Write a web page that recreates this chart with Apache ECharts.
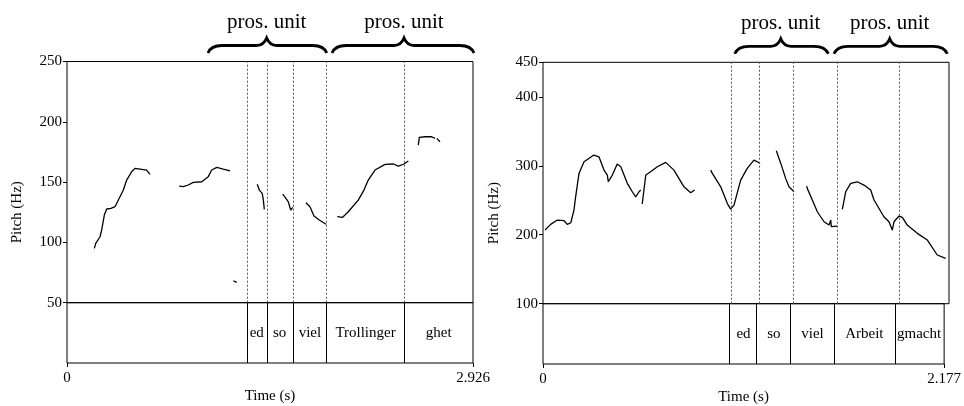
<!DOCTYPE html>
<html>
<head>
<meta charset="utf-8">
<script src="https://cdn.jsdelivr.net/npm/echarts@6/dist/echarts.min.js"></script>
<style>
  html, body { margin: 0; padding: 0; background: #fff; }
  #J_chart { width: 964px; height: 406px; }
</style>
</head>
<body>
<div id="J_chart"></div>
<script>
const FONT = '"Liberation Serif", "DejaVu Serif", serif';

// left panel: "ed so viel Trollinger ghet"
const leftDur = 2.926;
const leftPitchTicks = [50, 100, 150, 200, 250];
const leftContours = [
    [[0.197, 95.1], [0.207, 99.2], [0.221, 100.1], [0.238, 104.7], [0.250, 110.3], [0.269, 122.7],
     [0.286, 127.7], [0.317, 128.3], [0.346, 129.6], [0.370, 135.1], [0.406, 143.4], [0.430, 151.7],
     [0.466, 158.6], [0.490, 161.4], [0.526, 160.8], [0.574, 160.0], [0.598, 156.4]],
    [[0.809, 146.7], [0.838, 146.2], [0.850, 144.8], [0.874, 147.6], [0.910, 149.8], [0.971, 150.3],
     [1.018, 154.5], [1.043, 160.0], [1.079, 162.2], [1.126, 160.8], [1.175, 159.4]],
    [[1.199, 68.2], [1.223, 66.9]],
    [[1.371, 148.2], [1.386, 143.4], [1.398, 142.0], [1.407, 140.7], [1.415, 135.1], [1.422, 127.4]],
    [[1.554, 140.1], [1.578, 136.5], [1.595, 133.7], [1.612, 126.8], [1.627, 129.1]],
    [[1.722, 132.9], [1.751, 129.6], [1.780, 121.9], [1.818, 118.6], [1.867, 115.0]],
    [[1.948, 121.3], [1.987, 120.8], [2.027, 125.4], [2.099, 135.1], [2.140, 143.4], [2.171, 151.7],
     [2.220, 160.0], [2.292, 164.7], [2.352, 165.0], [2.388, 163.3], [2.429, 165.0], [2.460, 167.5]],
    [[2.532, 180.7], [2.539, 187.1], [2.580, 187.6], [2.628, 187.6], [2.652, 186.3]],
    [[2.665, 186.3], [2.672, 185.5], [2.688, 183.5]]
];
const leftBounds = [1.299, 1.436, 1.629, 1.872, 2.431];
const leftWords = ['', 'ed', 'so', 'viel', 'Trollinger', 'ghet'];
const leftUnits = [[1.016, 1.439, 1.872], [1.910, 2.429, 2.933]];

// right panel: "ed so viel Arbeit gmacht"
const rightDur = 2.177;
const rightPitchTicks = [100, 200, 300, 400, 450];
const rightContours = [
    [[0.011, 206.8], [0.041, 215.0], [0.077, 221.3], [0.113, 220.3], [0.130, 215.0], [0.149, 217.4],
     [0.166, 235.8], [0.175, 255.0], [0.193, 288.9], [0.220, 305.8], [0.273, 315.5], [0.300, 313.0],
     [0.327, 293.7], [0.345, 286.5], [0.350, 276.8], [0.372, 286.5], [0.398, 302.4], [0.417, 298.5],
     [0.452, 274.5], [0.479, 262.3], [0.497, 255.0], [0.515, 262.3], [0.524, 264.8]],
    [[0.532, 244.5], [0.551, 286.5], [0.577, 291.3], [0.613, 298.5], [0.658, 304.9], [0.702, 293.7],
     [0.756, 269.5], [0.792, 260.8], [0.813, 264.8]],
    [[0.899, 293.7], [0.908, 288.9], [0.953, 269.5], [0.988, 245.5], [1.006, 237.2], [1.024, 243.0],
     [1.060, 279.2], [1.095, 296.2], [1.131, 308.2], [1.149, 305.8], [1.164, 303.4]],
    [[1.251, 321.7], [1.275, 303.4], [1.301, 281.7], [1.319, 269.5], [1.346, 262.3]],
    [[1.414, 270.5], [1.417, 267.2], [1.444, 250.3], [1.471, 233.3], [1.507, 218.8], [1.534, 214.0],
     [1.543, 221.3], [1.546, 211.6], [1.578, 212.6]],
    [[1.605, 236.8], [1.623, 262.3], [1.650, 274.5], [1.685, 276.8], [1.721, 272.0], [1.757, 264.8],
     [1.775, 250.3], [1.828, 226.1], [1.855, 218.8], [1.873, 206.8], [1.882, 218.8], [1.909, 227.1],
     [1.927, 225.2], [1.953, 214.0], [2.007, 202.0], [2.061, 192.3], [2.114, 170.6], [2.159, 165.8]]
];
const rightBounds = [1.012, 1.164, 1.342, 1.583, 1.905];
const rightWords = ['', 'ed', 'so', 'viel', 'Arbeit', 'gmacht'];
const rightUnits = [[1.028, 1.275, 1.530], [1.560, 1.859, 2.168]];

const UNIT_LABEL = 'pros. unit';

const panels = [
    {dur: leftDur, ticks: leftPitchTicks, contours: leftContours, bounds: leftBounds, words: leftWords, units: leftUnits,
     left: 67, top: 61.5, pitchH: 241.2, tierH: 60.3, titleX: 17},
    {dur: rightDur, ticks: rightPitchTicks, contours: rightContours, bounds: rightBounds, words: rightWords, units: rightUnits,
     left: 543, top: 62.3, pitchH: 241.4, tierH: 60.3, titleX: 494}
];

const grid = [], xAxis = [], yAxis = [], series = [], graphic = [];

panels.forEach((p, k) => {
    let gPitch = 2 * k, gTier = 2 * k + 1;
    grid.push({left: p.left, top: p.top, width: 406, height: p.pitchH, show: true, borderColor: '#000', borderWidth: 1});
    grid.push({left: p.left, top: p.top + p.pitchH, width: 406, height: p.tierH, show: true, borderColor: '#000', borderWidth: 1});

    xAxis.push({type: 'value', gridIndex: gPitch, min: 0, max: p.dur, show: false});
    xAxis.push({
        type: 'value', gridIndex: gTier, min: 0, max: p.dur,
        name: 'Time (s)', nameLocation: 'middle', nameGap: 26,
        nameTextStyle: {fontFamily: FONT, fontSize: 15, color: '#000'},
        axisLine: {show: false},
        splitLine: {show: false},
        axisTick: {show: true, length: 4, lineStyle: {color: '#000'}, customValues: [0, p.dur]},
        axisLabel: {
            margin: 8, fontFamily: FONT, fontSize: 15, color: '#000',
            customValues: [0, p.dur],
            formatter: v => v === 0 ? '0' : String(p.dur)
        }
    });

    let lo = p.ticks[0], hi = p.ticks[p.ticks.length - 1];
    yAxis.push({
        type: 'value', gridIndex: gPitch, min: lo, max: hi,
        axisLine: {show: false},
        splitLine: {show: false},
        axisTick: {show: true, length: 4, lineStyle: {color: '#000'}, customValues: p.ticks},
        axisLabel: {margin: 5, fontFamily: FONT, fontSize: 15, color: '#000', customValues: p.ticks}
    });
    yAxis.push({type: 'value', gridIndex: gTier, min: 0, max: 1, show: false});

    // pitch contours
    p.contours.forEach((seg, i) => {
        let s = {
            type: 'line', xAxisIndex: gPitch, yAxisIndex: gPitch,
            data: seg, showSymbol: false, symbol: 'none', silent: true,
            lineStyle: {color: '#000', width: 1.3}
        };
        if (i === 0) {
            // pitch区的边界虚线
            s.markLine = {
                silent: true, symbol: ['none', 'none'], label: {show: false},
                lineStyle: {type: [2, 2], color: '#555', width: 1},
                data: p.bounds.map(t => ({xAxis: t}))
            };
        }
        series.push(s);
    });

    // text grid words
    let edges = [0].concat(p.bounds, [p.dur]);
    let wordData = [];
    p.words.forEach((w, i) => {
        if (w) wordData.push([(edges[i] + edges[i + 1]) / 2, 0.5, w]);
    });
    series.push({
        type: 'scatter', xAxisIndex: gTier, yAxisIndex: gTier,
        data: wordData, symbolSize: 0, silent: true,
        itemStyle: {opacity: 1},
        label: {
            show: true, position: 'inside', color: '#000', opacity: 1, fontFamily: FONT, fontSize: 15,
            formatter: param => param.value[2]
        },
        markLine: {
            silent: true, symbol: ['none', 'none'], label: {show: false},
            lineStyle: {type: 'solid', color: '#000', width: 1, opacity: 1},
            data: p.bounds.map(t => ({xAxis: t}))
        }
    });

    // braces + "pros. unit"
    series.push({
        type: 'custom', xAxisIndex: gPitch, yAxisIndex: gPitch,
        data: p.units, silent: true, clip: false,
        encode: {x: [0, 1, 2]},
        renderItem: function (params, api) {
            let top = api.coord([0, hi])[1];
            let x0 = api.coord([api.value(0), hi])[0];
            let xp = api.coord([api.value(1), hi])[0];
            let x1 = api.coord([api.value(2), hi])[0];
            let yEnd = top - 8.5, yH = top - 16, yPk = top - 23.5;
            let d = ['M', x0, yEnd,
                'Q', x0 + 3, yH, x0 + 14, yH,
                'L', xp - 10, yH,
                'Q', xp - 3, yH, xp, yPk,
                'Q', xp + 3, yH, xp + 10, yH,
                'L', x1 - 14, yH,
                'Q', x1 - 3, yH, x1, yEnd].join(' ');
            return {
                type: 'group',
                children: [{
                    type: 'path',
                    shape: {pathData: d},
                    style: {fill: 'none', stroke: '#000', lineWidth: 2.8}
                }, {
                    type: 'text',
                    style: {
                        text: UNIT_LABEL, x: xp, y: top - 39,
                        align: 'center', verticalAlign: 'middle',
                        font: '21px ' + FONT, fill: '#000'
                    }
                }]
            };
        }
    });

    graphic.push({
        type: 'text', x: p.titleX, y: p.top + (p.pitchH + p.tierH) / 2, rotation: Math.PI / 2,
        style: {text: 'Pitch (Hz)', align: 'center', verticalAlign: 'middle', font: '15px ' + FONT, fill: '#000'}
    });
});

let chart = echarts.init(document.getElementById('J_chart'));
chart.setOption({
    animation: false,
    backgroundColor: '#fff',
    grid: grid,
    xAxis: xAxis,
    yAxis: yAxis,
    series: series,
    graphic: graphic
});
</script>
</body>
</html>
